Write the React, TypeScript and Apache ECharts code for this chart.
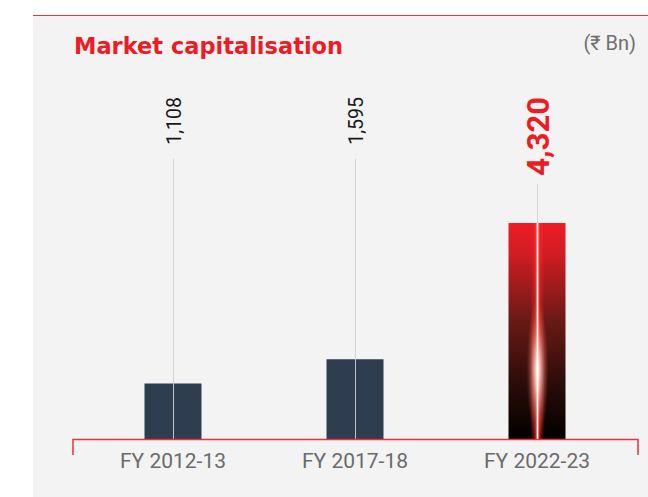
import React, { useEffect, useRef } from "react";
import * as echarts from "echarts";

const categories = ["FY 2012-13", "FY 2017-18", "FY 2022-23"];
const values = [1108, 1595, 4320];
const highlightIndex = 2;
const titleText = "Market capitalisation";
const unitText = "(₹ Bn)";

const FONT = 'Roboto, "Noto Sans", "DejaVu Sans", sans-serif';
const TITLE_FONT = '"DejaVu Sans", Roboto, sans-serif';
const LABEL_TOP = 97;

const measure = (text: string, font: string) => {
  const ctx = document.createElement("canvas").getContext("2d");
  if (!ctx) return text.length * 10;
  ctx.font = font;
  return ctx.measureText(text).width;
};

export default function App() {
  const ref = useRef<HTMLDivElement>(null);
  useEffect(() => {
    if (!ref.current) return;
    const chart = echarts.init(ref.current, undefined, { renderer: "svg" });
    const labels = values.map((v) => v.toLocaleString("en-US"));

    const renderItem = (params: any, api: any) => {
      const i = api.value(0);
      const v = api.value(1);
      const base = api.coord([i, 0]);
      const top = api.coord([i, v]);
      const cx = Math.round(base[0]) + 0.5;
      const hl = i === highlightIndex;
      const font = hl ? `bold 31px ${FONT}` : `19.5px ${FONT}`;
      const len = measure(labels[i], font);
      const lineTop = LABEL_TOP + len + (hl ? 8 : 14);
      const children: any[] = [];
      children.push({
        type: "line",
        shape: { x1: cx, y1: lineTop, x2: cx, y2: base[1] },
        style: { stroke: "#d2d2d2", lineWidth: 1, opacity: 0.9 },
      });
      if (hl) {
        const h = base[1] - top[1];
        children.push({
          type: "rect",
          shape: { x: cx - 7, y: top[1], width: 14, height: h },
          style: {
            fill: {
              type: "linear", x: 0, y: 0, x2: 1, y2: 0,
              colorStops: [
                { offset: 0, color: "rgba(255,30,30,0)" },
                { offset: 0.3, color: "rgba(255,40,40,0.45)" },
                { offset: 0.5, color: "rgba(255,110,100,1)" },
                { offset: 0.7, color: "rgba(255,40,40,0.45)" },
                { offset: 1, color: "rgba(255,30,30,0)" },
              ],
            },
          },
        });
        children.push({
          type: "ellipse",
          shape: { cx: cx, cy: top[1] + 0.68 * h, rx: 11, ry: 0.33 * h },
          style: {
            fill: {
              type: "radial", x: 0.5, y: 0.5, r: 0.5,
              colorStops: [
                { offset: 0, color: "rgba(255,255,255,1)" },
                { offset: 0.35, color: "rgba(255,200,185,0.7)" },
                { offset: 1, color: "rgba(255,60,40,0)" },
              ],
            },
          },
        });
        children.push({
          type: "line",
          shape: { x1: cx, y1: top[1], x2: cx, y2: base[1] },
          style: { stroke: "#ffffff", lineWidth: 1.5 },
        });
      }
      children.push({
        type: "text",
        x: cx + 1,
        y: LABEL_TOP,
        rotation: Math.PI / 2,
        style: {
          text: labels[i],
          font,
          fill: hl ? "#ed1c24" : "#1a1a1a",
          align: "right",
          verticalAlign: "middle",
        },
      });
      return { type: "group", children };
    };

    chart.setOption({
      animation: false,
      backgroundColor: "#ffffff",
      graphic: [
        {
          type: "rect", z: -10, silent: true,
          shape: { x: 33, y: 15, width: 615, height: 482 },
          style: { fill: "#f3f3f3" },
        },
        {
          type: "line", z: 100,
          shape: { x1: 33, y1: 15.5, x2: 648, y2: 15.5 },
          style: { stroke: "#e8333a", lineWidth: 1.2 },
        },
        {
          type: "text", z: 100, x: 74, y: 46,
          style: {
            text: titleText, fill: "#ed1c24",
            font: `bold 22.5px ${TITLE_FONT}`, align: "left", verticalAlign: "middle",
          },
        },
        {
          type: "text", z: 100, x: 636, y: 43,
          style: {
            text: unitText, fill: "#6f6f6f",
            font: `20px ${FONT}`, align: "right", verticalAlign: "middle",
          },
        },
        {
          type: "polyline", z: 100,
          shape: { points: [[73, 455], [73, 439.5], [638, 439.5], [638, 455]] },
          style: { stroke: "#e8333a", fill: null, lineWidth: 1.5 },
        },
      ],
      grid: { left: 82, right: 20, top: 89, bottom: 58 },
      xAxis: {
        type: "category",
        data: categories,
        axisLine: { show: false },
        axisTick: { show: false },
        axisLabel: { color: "#6b6b6b", fontSize: 21, fontFamily: FONT, margin: 11 },
      },
      yAxis: { type: "value", min: 0, max: 7000, show: false },
      series: [
        {
          type: "bar",
          barWidth: 57,
          silent: true,
          itemStyle: { color: "#2e3d4f" },
          data: values.map((v, i) =>
            i === highlightIndex
              ? {
                  value: v,
                  itemStyle: {
                    color: {
                      type: "linear", x: 0, y: 0, x2: 0, y2: 1,
                      colorStops: [
                        { offset: 0, color: "#ee1c25" },
                        { offset: 0.15, color: "#cf1c22" },
                        { offset: 0.45, color: "#6a1a16" },
                        { offset: 0.75, color: "#2a0c08" },
                        { offset: 1, color: "#000000" },
                      ],
                    },
                  },
                }
              : v
          ),
        },
        {
          type: "custom",
          silent: true,
          z: 5,
          data: values.map((v, i) => [i, v]),
          encode: { x: 0, y: 1 },
          renderItem,
        },
      ],
    });
    return () => chart.dispose();
  }, []);
  return (
    <div
      ref={ref}
      style={{ position: "absolute", left: 0, top: 0, width: 648, height: 497 }}
    />
  );
}
